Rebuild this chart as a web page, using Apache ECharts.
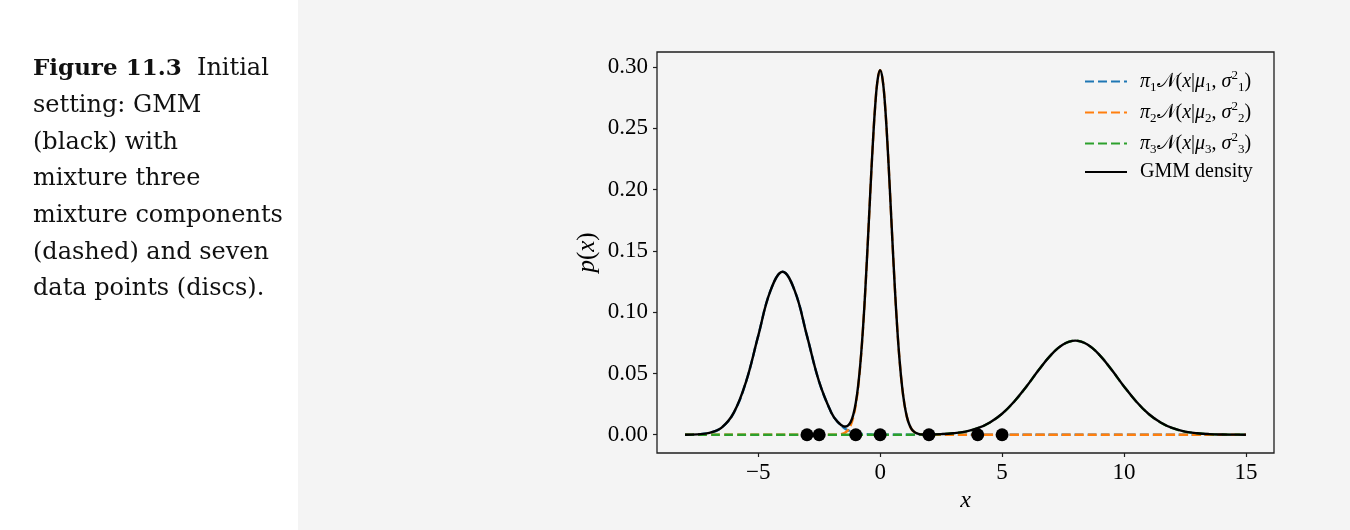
<!DOCTYPE html>
<html>
<head>
<meta charset="utf-8">
<script src="https://cdn.jsdelivr.net/npm/echarts@6/dist/echarts.min.js"></script>
<style>
  html, body { margin: 0; padding: 0; background: #f4f4f4; }
  #chart { width: 1350px; height: 530px; }
</style>
</head>
<body>
<div id="chart"></div>
<script>
// x sample positions
var xs = [-8,-7.5,-7,-6.5,-6,-5.5,-5,-4.5,-4,-3.5,-3,-2.5,-2,-1.75,
  -1.5,-1.4,-1.3,-1.2,-1.1,-1,-0.9,-0.8,-0.7,-0.6,-0.5,-0.4,-0.3,-0.2,-0.1,
  0,0.1,0.2,0.3,0.4,0.5,0.6,0.7,0.8,0.9,1,1.1,1.2,1.3,1.4,1.5,1.75,
  2,2.5,3,3.5,4,4.5,5,5.5,6,6.5,7,7.5,8,8.5,9,9.5,10,10.5,11,11.5,12,12.5,13,13.5,14,14.5,15];

// pi1 N(x|mu1, sigma1^2)
var comp1 = [0.0000,0.0003,0.0015,0.0058,0.0180,0.0432,0.0807,0.1174,0.1330,0.1174,0.0807,0.0432,0.0180,0.0106,
  0.0058,0.0045,0.0035,0.0026,0.0020,0.0015,0.0011,0.0008,0.0006,0.0004,0.0003,0.0002,0.0001,0.0001,0.0001,
  0,0,0,0,0,0,0,0,0,0,0,0,0,0,0,0,0,
  0,0,0,0,0,0,0,0,0,0,0,0,0,0,0,0,0,0,0,0,0,0,0,0,0,0,0];

// pi2 N(x|mu2, sigma2^2)
var comp2 = [0,0,0,0,0,0,0,0,0,0,0,0,0,0.0001,
  0.0011,0.0022,0.0043,0.0081,0.0144,0.0244,0.0392,0.0600,0.0873,0.1209,0.1592,0.1993,0.2374,0.2691,0.2900,
  0.2974,0.2900,0.2691,0.2374,0.1993,0.1592,0.1209,0.0873,0.0600,0.0392,0.0244,0.0144,0.0081,0.0043,0.0022,0.0011,0.0001,
  0,0,0,0,0,0,0,0,0,0,0,0,0,0,0,0,0,0,0,0,0,0,0,0,0,0,0];

// pi3 N(x|mu3, sigma3^2)
var comp3 = [0,0,0,0,0,0,0,0,0,0,0,0,0,0,
  0,0,0,0,0,0,0,0,0,0,0,0,0,0,0,
  0,0,0,0,0,0,0,0,0,0,0,0,0,0,0.0001,0.0001,0.0001,
  0.0002,0.0005,0.0012,0.0026,0.0053,0.0100,0.0171,0.0271,0.0394,0.0528,0.0650,0.0736,0.0768,0.0736,0.0650,0.0528,0.0394,0.0271,0.0171,0.0100,0.0053,0.0026,0.0012,0.0005,0.0002,0.0001,0.0000];

// GMM density
var gmm = [0.0000,0.0003,0.0015,0.0058,0.0180,0.0432,0.0807,0.1174,0.1330,0.1174,0.0807,0.0432,0.0180,0.0107,
  0.0069,0.0067,0.0078,0.0107,0.0164,0.0259,0.0403,0.0608,0.0879,0.1213,0.1595,0.1995,0.2375,0.2692,0.2901,
  0.2974,0.2900,0.2691,0.2374,0.1993,0.1592,0.1209,0.0873,0.0600,0.0392,0.0244,0.0144,0.0081,0.0043,0.0023,0.0012,0.0002,
  0.0002,0.0005,0.0012,0.0026,0.0053,0.0100,0.0171,0.0271,0.0394,0.0528,0.0650,0.0736,0.0768,0.0736,0.0650,0.0528,0.0394,0.0271,0.0171,0.0100,0.0053,0.0026,0.0012,0.0005,0.0002,0.0001,0.0000];

// data points (discs)
var pointsX = [-3, -2.5, -1, 0, 2, 4, 5];

var xTicks = [-5, 0, 5, 10, 15];
var yTicks = [0, 0.05, 0.10, 0.15, 0.20, 0.25, 0.30];

var captionLines = [
  '{b|Figure 11.3}  Initial',
  'setting: GMM',
  '(black) with',
  'mixture three',
  'mixture components',
  '(dashed) and seven',
  'data points (discs).'
];

var seriesNames = ['c1', 'c2', 'c3', 'GMM density'];
var legendLabels = {
  'c1': '{i|π}{sb|1}{c|𝒩}{r|(}{i|x}{r||}{i|μ}{sb|1}{r|, }{i|σ}{sp|2}{sb|1}{r|)}',
  'c2': '{i|π}{sb|2}{c|𝒩}{r|(}{i|x}{r||}{i|μ}{sb|2}{r|, }{i|σ}{sp|2}{sb|2}{r|)}',
  'c3': '{i|π}{sb|3}{c|𝒩}{r|(}{i|x}{r||}{i|μ}{sb|3}{r|, }{i|σ}{sp|2}{sb|3}{r|)}',
  'GMM density': '{r|GMM density}'
};

function pairs(ys) { return xs.map(function (x, i) { return [x, ys[i]]; }); }

var SERIF = '"Liberation Serif", "DejaVu Serif", serif';
var CAPFONT = '"DejaVu Serif", serif';
var frameColor = '#1e1e1e';

var chart = echarts.init(document.getElementById('chart'), null, { renderer: 'canvas' });

var graphics = [{
  type: 'rect', z: -10, silent: true,
  shape: { x: 0, y: 0, width: 298, height: 530 },
  style: { fill: '#ffffff' }
}];
captionLines.forEach(function (t, i) {
  graphics.push({
    type: 'text', silent: true,
    x: 33, y: 69 + i * 36.67,
    style: {
      text: t,
      font: '24px ' + CAPFONT,
      fill: '#111',
      align: 'left',
      verticalAlign: 'middle',
      rich: { b: { fontFamily: CAPFONT, fontSize: 23, fontWeight: 'bold', fill: '#111' } }
    }
  });
});

function dashed(name, color, ys) {
  return {
    name: name, type: 'line', data: pairs(ys),
    showSymbol: false, symbol: 'none', smooth: 0.4,
    lineStyle: { color: color, width: 2.4, type: [9, 4] },
    itemStyle: { color: color },
    z: 2, silent: true
  };
}

var option = {
  backgroundColor: '#f4f4f4',
  animation: false,
  graphic: graphics,
  grid: {
    left: 657, right: 76, top: 52, bottom: 77,
    show: true, borderColor: frameColor, borderWidth: 1.3, backgroundColor: 'transparent'
  },
  legend: {
    orient: 'vertical',
    left: 1079, top: 64,
    itemWidth: 42, itemHeight: 14, itemGap: 6,
    data: seriesNames,
    selectedMode: false,
    itemStyle: { color: 'rgba(0,0,0,0)', borderColor: 'rgba(0,0,0,0)', borderWidth: 0, opacity: 0 },
    formatter: function (name) { return legendLabels[name]; },
    textStyle: {
      padding: [0, 0, 0, 8],
      rich: {
        r: { fontFamily: SERIF, fontSize: 20, lineHeight: 25, color: '#000', verticalAlign: 'middle' },
        i: { fontFamily: SERIF, fontSize: 20, lineHeight: 25, fontStyle: 'italic', color: '#000', verticalAlign: 'middle' },
        c: { fontFamily: SERIF, fontSize: 20, lineHeight: 25, color: '#000', verticalAlign: 'middle' },
        sb: { fontFamily: SERIF, fontSize: 13, lineHeight: 12, color: '#000', verticalAlign: 'bottom' },
        sp: { fontFamily: SERIF, fontSize: 13, lineHeight: 12, color: '#000', verticalAlign: 'top' }
      }
    }
  },
  xAxis: {
    type: 'value', min: -9.15, max: 16.15,
    name: 'x', nameLocation: 'middle', nameGap: 33,
    nameTextStyle: { fontFamily: SERIF, fontSize: 24, fontStyle: 'italic', color: '#000' },
    axisLine: { show: false, onZero: false },
    splitLine: { show: false },
    axisTick: { show: true, length: 4, lineStyle: { color: frameColor, width: 1.2 }, customValues: xTicks },
    axisLabel: {
      customValues: xTicks, margin: 8, fontFamily: SERIF, fontSize: 23, color: '#000',
      formatter: function (v) { return v < 0 ? '\u2212' + Math.abs(v) : String(v); }
    }
  },
  yAxis: {
    type: 'value', min: -0.0149, max: 0.3123,
    name: '{i|p}{r|(}{i|x}{r|)}', nameLocation: 'middle', nameGap: 57,
    nameTextStyle: {
      rich: {
        i: { fontFamily: SERIF, fontSize: 25, fontStyle: 'italic', color: '#000' },
        r: { fontFamily: SERIF, fontSize: 25, color: '#000' }
      }
    },
    axisLine: { show: false, onZero: false },
    splitLine: { show: false },
    axisTick: { show: true, length: 4, lineStyle: { color: frameColor, width: 1.2 }, customValues: yTicks },
    axisLabel: {
      customValues: yTicks, margin: 9, fontFamily: SERIF, fontSize: 23, color: '#000',
      formatter: function (v) { return v.toFixed(2); }
    }
  },
  series: [
    dashed('c1', '#1f77b4', comp1),
    dashed('c2', '#ff7f0e', comp2),
    dashed('c3', '#2ca02c', comp3),
    {
      name: 'GMM density', type: 'line', data: pairs(gmm),
      showSymbol: false, symbol: 'none', smooth: 0.4,
      lineStyle: { color: '#000', width: 2.4 },
      itemStyle: { color: '#000' },
      z: 3, silent: true
    },
    {
      name: 'data', type: 'scatter',
      data: pointsX.map(function (x) { return [x, 0]; }),
      symbol: 'circle', symbolSize: 13,
      itemStyle: { color: '#000', opacity: 1 },
      z: 4, silent: true
    }
  ]
};
chart.setOption(option);
</script>
</body>
</html>
